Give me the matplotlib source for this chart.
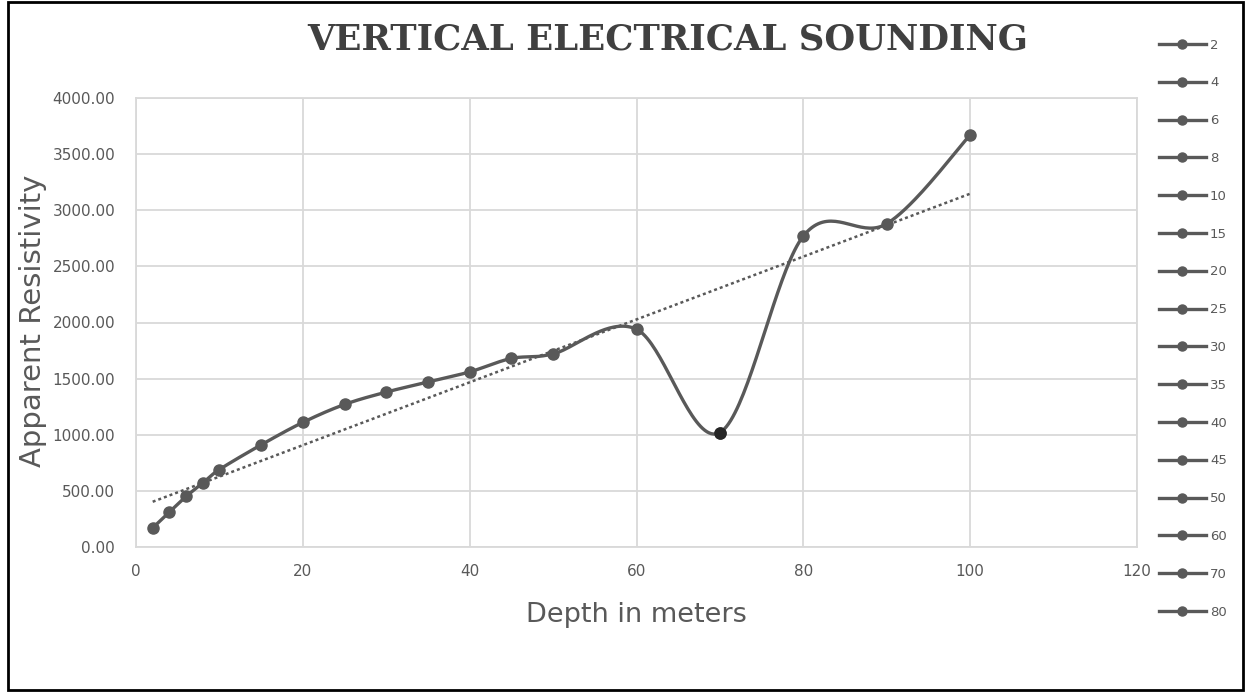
import numpy as np
import matplotlib
matplotlib.use("Agg")
import matplotlib.pyplot as plt
from matplotlib.lines import Line2D
from matplotlib.patches import Rectangle

# ---- data ----
depth = [2, 4, 6, 8, 10, 15, 20, 25, 30, 35, 40, 45, 50, 60, 70, 80, 90, 100]
resistivity = [170, 310, 450, 570, 690, 910, 1110, 1270, 1380, 1470, 1560,
               1680, 1720, 1940, 1020, 2770, 2880, 3670]
legend_labels = [str(d) for d in depth[:16]]
xticks = [0, 20, 40, 60, 80, 100, 120]
yticks = [0, 500, 1000, 1500, 2000, 2500, 3000, 3500, 4000]

GREY = "#595959"
GRID = "#d9d9d9"


def smooth_curve(xs, ys, n=40):
    """Excel-like smoothed line: Catmull-Rom style cubic Bezier segments."""
    P = np.column_stack([xs, ys]).astype(float)
    ext = np.vstack([P[0], P, P[-1]])
    out = []
    t = np.linspace(0, 1, n)[:, None]
    for i in range(len(P) - 1):
        p0, p1, p2, p3 = ext[i], ext[i + 1], ext[i + 2], ext[i + 3]
        c1 = p1 + (p2 - p0) / 6.0
        c2 = p2 - (p3 - p1) / 6.0
        seg = ((1 - t) ** 3) * p1 + 3 * ((1 - t) ** 2) * t * c1 + 3 * (1 - t) * t ** 2 * c2 + t ** 3 * p2
        out.append(seg if i == 0 else seg[1:])
    out = np.vstack(out)
    return out[:, 0], out[:, 1]


fig = plt.figure(figsize=(12.56, 6.98), dpi=100)
ax = fig.add_axes([136 / 1256, 1 - 547 / 698, (1137 - 136) / 1256, (547 - 98) / 698])

ax.set_xlim(0, 120)
ax.set_ylim(0, 4000)
ax.set_xticks(xticks)
ax.set_yticks(yticks)
ax.set_yticklabels([f"{v:.2f}" for v in yticks])
ax.grid(True, color=GRID, linewidth=1.3)
ax.set_axisbelow(True)
for s in ax.spines.values():
    s.set_color(GRID)
    s.set_linewidth(1.3)
ax.tick_params(length=0, colors=GREY, labelsize=11, pad=15)
ax.tick_params(axis="x", pad=12)

# smoothed line + markers
sx, sy = smooth_curve(depth, resistivity)
ax.plot(sx, sy, color=GREY, linewidth=2.4, zorder=3)
ax.plot(depth, resistivity, linestyle="none", marker="o", markersize=8,
        color=GREY, zorder=4)
ax.plot([70], [1020], linestyle="none", marker="o", markersize=8,
        color="#262626", zorder=5)

# linear trendline
coef = np.polyfit(depth, resistivity, 1)
tx = np.array([depth[0], depth[-1]])
ax.plot(tx, np.polyval(coef, tx), linestyle=(0, (1.2, 1.2)), color=GREY,
        linewidth=1.8, zorder=2)

ax.set_xlabel("Depth in meters", fontsize=19.5, color=GREY, labelpad=17)
fig.text(33 / 1256, 1 - 321 / 698, "Apparent Resistivity", rotation=90,
         fontsize=21, color=GREY, ha="center", va="center")

fig.text(668 / 1256, 1 - 39 / 698, "VERTICAL ELECTRICAL SOUNDING",
         fontsize=25.5, family="DejaVu Serif", fontweight="bold",
         color="#404040", ha="center", va="center")

# legend
handles = [Line2D([], [], color=GREY, linewidth=2.4, marker="o", markersize=6.5)
           for _ in legend_labels]
fig.legend(handles, legend_labels, loc="upper left",
           bbox_to_anchor=(1152 / 1256, 1 - 32 / 698), frameon=False,
           fontsize=9.5, labelcolor=GREY, handlelength=3.6,
           labelspacing=1.88, handletextpad=0.3, borderpad=0)

# outer frame
fig.patches.append(Rectangle((8 / 1256, 8 / 698), 1235 / 1256, 688 / 698,
                             transform=fig.transFigure, fill=False,
                             edgecolor="black", linewidth=2))

fig.savefig("out.png", dpi=100)
